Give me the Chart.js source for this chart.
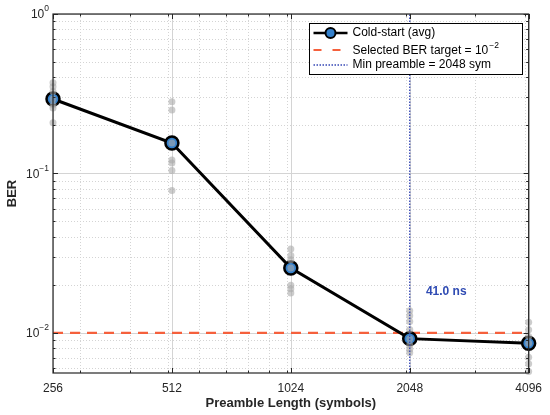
<!DOCTYPE html>
<html>
<head>
<meta charset="utf-8">
<script src="https://cdn.jsdelivr.net/npm/chart.js@4/dist/chart.umd.min.js"></script>
<style>
  html, body { margin: 0; padding: 0; background: #fff; }
  #wrap { width: 550px; height: 415px; }
</style>
</head>
<body>
<div id="wrap"><canvas id="chart"></canvas></div>
<script>
// --- Data ---
const lengths = [256, 512, 1024, 2048, 4096];
const avgBer = [0.293, 0.155, 0.0255, 0.0092, 0.0086];

// individual cold-start runs per preamble length
const runs256 = [0.371, 0.350, 0.326, 0.293, 0.269, 0.257, 0.208];
const runs512 = [0.282, 0.250, 0.155, 0.1216, 0.1164, 0.1044, 0.0782];
const runs1024 = [0.0336, 0.0306, 0.0287, 0.0255, 0.0199, 0.0189, 0.0178];
const runs2048 = [0.01374, 0.0128, 0.01178, 0.0105, 0.0092, 0.0084, 0.0079, 0.0075];
const runs4096 = [0.01164, 0.01045, 0.00948, 0.0086, 0.00702, 0.0064, 0.00572];
const runsByLength = [runs256, runs512, runs1024, runs2048, runs4096];

const berTarget = 0.01;
const minPreamble = 2048;
const latencyLabel = '41.0 ns';

// --- Axis ---
const xMin = 256, xMax = 4096;
const yMin = 0.0056, yMax = 1;
const xTicks = [256, 512, 1024, 2048, 4096];
const xMinor = [300, 400, 500, 600, 700, 800, 900, 1000, 2000, 3000, 4000];
const yTicks = [0.01, 0.1, 1];
const yTickExp = ['\u22122', '\u22121', '0'];
const yMinor = [0.006, 0.007, 0.008, 0.009,
                0.02, 0.03, 0.04, 0.05, 0.06, 0.07, 0.08, 0.09,
                0.2, 0.3, 0.4, 0.5, 0.6, 0.7, 0.8, 0.9];

const FONT = '"Liberation Sans", Arial, Helvetica, sans-serif';
const AXIS_COLOR = '#262626';
const MARKER_BLUE = '#3380cc';
const TARGET_RED = '#f5603c';
const LINE_BLUE = '#3547b5';

const runPoints = [];
runsByLength.forEach((runs, i) => {
    runs.forEach(v => runPoints.push({ x: lengths[i], y: v }));
});

// grid, box, inner ticks, labels and legend drawn MATLAB style
const matlabFrame = {
    id: 'matlabFrame',
    beforeDatasetsDraw(chart) {
        const { ctx, chartArea: a, scales: { x, y } } = chart;
        ctx.save();
        ctx.lineWidth = 1;
        // minor dotted grid
        ctx.strokeStyle = '#d4d4d4';
        ctx.setLineDash([1, 2]);
        xMinor.forEach(v => {
            const px = Math.round(x.getPixelForValue(v)) + 0.5;
            ctx.beginPath(); ctx.moveTo(px, a.top); ctx.lineTo(px, a.bottom); ctx.stroke();
        });
        yMinor.forEach(v => {
            const py = Math.round(y.getPixelForValue(v)) + 0.5;
            ctx.beginPath(); ctx.moveTo(a.left, py); ctx.lineTo(a.right, py); ctx.stroke();
        });
        // major solid grid
        ctx.setLineDash([]);
        ctx.strokeStyle = '#d4d4d4';
        xTicks.forEach(v => {
            const px = Math.round(x.getPixelForValue(v)) + 0.5;
            ctx.beginPath(); ctx.moveTo(px, a.top); ctx.lineTo(px, a.bottom); ctx.stroke();
        });
        yTicks.forEach(v => {
            const py = Math.round(y.getPixelForValue(v)) + 0.5;
            ctx.beginPath(); ctx.moveTo(a.left, py); ctx.lineTo(a.right, py); ctx.stroke();
        });
        ctx.restore();
    },
    afterDatasetsDraw(chart) {
        const { ctx, chartArea: a, scales: { x, y } } = chart;
        ctx.save();

        // box
        ctx.strokeStyle = AXIS_COLOR;
        ctx.lineWidth = 1.2;
        ctx.strokeRect(a.left, a.top, a.right - a.left, a.bottom - a.top);

        // inner ticks
        ctx.lineWidth = 1;
        const tick = (px, len, vertical) => {
            ctx.beginPath();
            if (vertical) {
                ctx.moveTo(px, a.bottom); ctx.lineTo(px, a.bottom - len);
                ctx.moveTo(px, a.top); ctx.lineTo(px, a.top + len);
            } else {
                ctx.moveTo(a.left, px); ctx.lineTo(a.left + len, px);
                ctx.moveTo(a.right, px); ctx.lineTo(a.right - len, px);
            }
            ctx.stroke();
        };
        xTicks.forEach(v => tick(Math.round(x.getPixelForValue(v)) + 0.5, 5, true));
        xMinor.forEach(v => tick(Math.round(x.getPixelForValue(v)) + 0.5, 2.5, true));
        yTicks.forEach(v => tick(Math.round(y.getPixelForValue(v)) + 0.5, 5, false));
        yMinor.forEach(v => tick(Math.round(y.getPixelForValue(v)) + 0.5, 2.5, false));

        // y tick labels 10^n
        ctx.fillStyle = AXIS_COLOR;
        ctx.textBaseline = 'middle';
        yTicks.forEach((v, i) => {
            const py = y.getPixelForValue(v);
            ctx.font = '8.5px ' + FONT;
            const ew = ctx.measureText(yTickExp[i]).width;
            const right = a.left - 4;
            ctx.textAlign = 'left';
            ctx.fillText(yTickExp[i], right - ew, py - 5);
            ctx.font = '12px ' + FONT;
            ctx.textAlign = 'right';
            ctx.fillText('10', right - ew, py + 1);
        });

        // axis titles
        ctx.font = 'bold 13px ' + FONT;
        ctx.textAlign = 'center';
        ctx.fillText('Preamble Length (symbols)', (a.left + a.right) / 2, 403);
        ctx.save();
        ctx.translate(12, (a.top + a.bottom) / 2);
        ctx.rotate(-Math.PI / 2);
        ctx.fillText('BER', 0, 0);
        ctx.restore();

        // latency annotation
        ctx.font = 'bold 12px ' + FONT;
        ctx.fillStyle = '#2f4bb3';
        ctx.textAlign = 'left';
        ctx.fillText(latencyLabel, x.getPixelForValue(2250), y.getPixelForValue(0.018));

        // legend
        const lx = 309.5, ly = 23.5, lw = 213, lh = 51;
        ctx.fillStyle = '#fff';
        ctx.fillRect(lx, ly, lw, lh);
        ctx.strokeStyle = '#000';
        ctx.lineWidth = 1;
        ctx.strokeRect(lx, ly, lw, lh);

        const sx0 = lx + 4, sx1 = lx + 38, tx = lx + 43;
        const r1 = ly + 9.5, r2 = ly + 26.5, r3 = ly + 41.5;
        ctx.lineWidth = 2.5;
        ctx.strokeStyle = '#000';
        ctx.beginPath(); ctx.moveTo(sx0, r1); ctx.lineTo(sx1, r1); ctx.stroke();
        ctx.beginPath(); ctx.arc((sx0 + sx1) / 2, r1, 5, 0, Math.PI * 2);
        ctx.fillStyle = MARKER_BLUE; ctx.fill();
        ctx.lineWidth = 2; ctx.stroke();

        ctx.strokeStyle = TARGET_RED;
        ctx.lineWidth = 2;
        ctx.setLineDash([8, 11]);
        ctx.beginPath(); ctx.moveTo(sx0, r2); ctx.lineTo(sx1, r2); ctx.stroke();

        ctx.strokeStyle = LINE_BLUE;
        ctx.lineWidth = 1.5;
        ctx.setLineDash([1.5, 1.5]);
        ctx.beginPath(); ctx.moveTo(sx0, r3); ctx.lineTo(sx1, r3); ctx.stroke();
        ctx.setLineDash([]);

        ctx.fillStyle = '#000';
        ctx.font = '12px ' + FONT;
        ctx.textAlign = 'left';
        ctx.fillText('Cold-start (avg)', tx, r1);
        const t2 = 'Selected BER target = 10';
        ctx.fillText(t2, tx, r2 + 1);
        const w2 = ctx.measureText(t2).width;
        ctx.font = '8.5px ' + FONT;
        ctx.fillText('\u22122', tx + w2 + 1, r2 - 4);
        ctx.font = '12px ' + FONT;
        ctx.fillText('Min preamble = 2048 sym', tx, r3);

        ctx.restore();
    }
};

new Chart(document.getElementById('chart'), {
    type: 'scatter',
    data: {
        datasets: [
            {
                label: 'Min preamble = 2048 sym',
                data: [{ x: minPreamble, y: yMin }, { x: minPreamble, y: yMax }],
                showLine: true,
                borderColor: LINE_BLUE,
                borderWidth: 1.3,
                borderDash: [1.5, 1.5],
                pointRadius: 0,
                order: 1
            },
            {
                label: 'runs',
                data: runPoints,
                pointRadius: 3.5,
                pointBackgroundColor: 'rgba(170,170,170,0.6)',
                pointBorderWidth: 0,
                clip: false,
                order: 2
            },
            {
                label: 'Cold-start (avg)',
                data: lengths.map((v, i) => ({ x: v, y: avgBer[i] })),
                showLine: true,
                borderColor: '#000',
                borderWidth: 3,
                pointRadius: 6.5,
                pointBorderWidth: 2.5,
                pointBorderColor: '#000',
                pointBackgroundColor: MARKER_BLUE,
                clip: false,
                order: 3
            },
            {
                label: 'Selected BER target',
                data: [{ x: xMin, y: berTarget }, { x: xMax, y: berTarget }],
                showLine: true,
                borderColor: TARGET_RED,
                borderWidth: 2.2,
                borderDash: [10, 7],
                pointRadius: 0,
                order: 4
            }
        ]
    },
    options: {
        responsive: true,
        maintainAspectRatio: false,
        animation: false,
        layout: { padding: { top: 14, right: 18, left: 0, bottom: 0 } },
        plugins: {
            legend: { display: false },
            tooltip: { enabled: false }
        },
        scales: {
            x: {
                type: 'logarithmic',
                min: xMin,
                max: xMax,
                afterBuildTicks: s => { s.ticks = xTicks.map(v => ({ value: v })); },
                afterFit: s => { s.height = 42; },
                grid: { display: false, drawTicks: false },
                border: { display: false },
                ticks: {
                    callback: v => String(v),
                    color: AXIS_COLOR,
                    font: { family: FONT, size: 12 },
                    padding: 8,
                    maxRotation: 0,
                    autoSkip: false
                }
            },
            y: {
                type: 'logarithmic',
                min: yMin,
                max: yMax,
                afterFit: s => { s.width = 53; },
                grid: { display: false, drawTicks: false },
                border: { display: false },
                ticks: { display: false }
            }
        }
    },
    plugins: [matlabFrame]
});
</script>
</body>
</html>
